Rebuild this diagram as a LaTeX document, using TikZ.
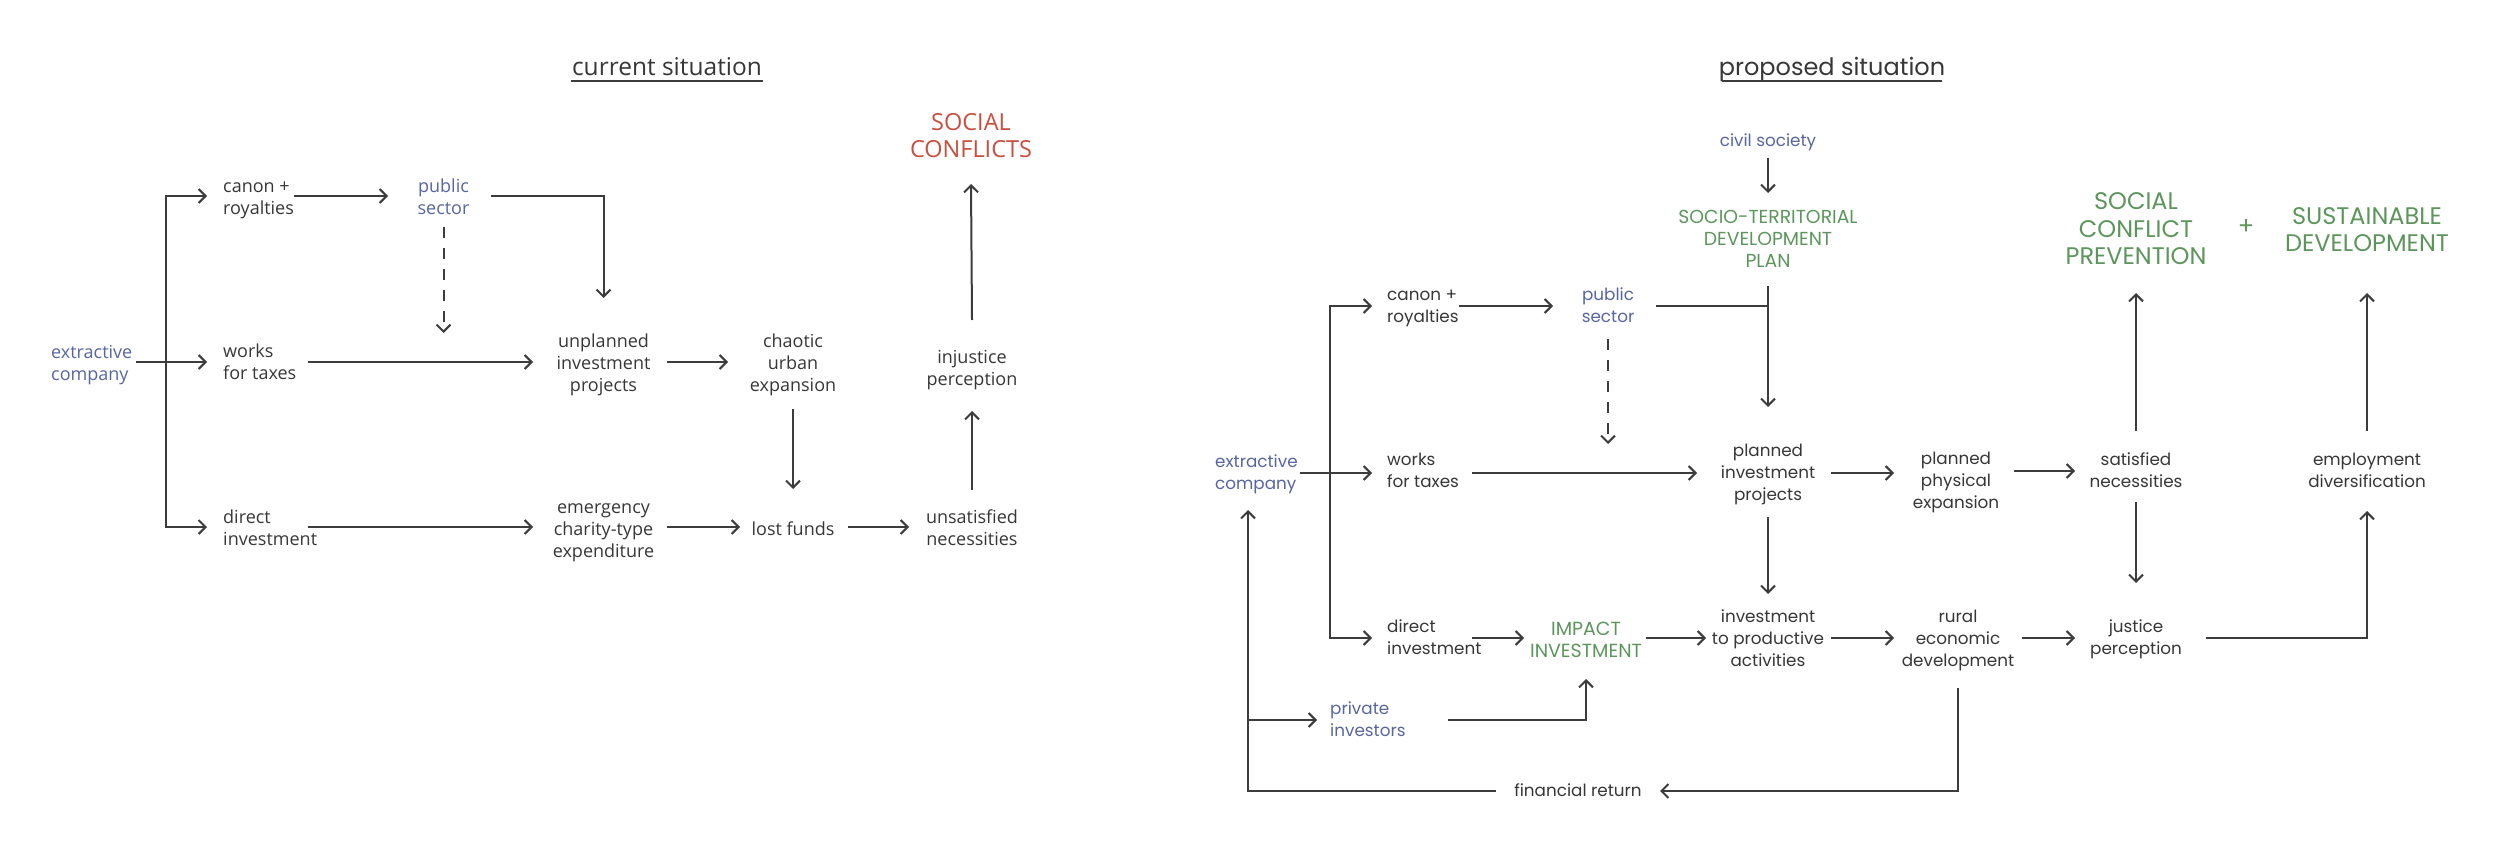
\documentclass[tikz,border=0pt]{standalone}
\usepackage{fontspec}
\setmainfont{Open Sans}
\newfontfamily\pop{Poppins}
\usetikzlibrary{arrows.meta}
\definecolor{ink}{RGB}{55,55,55}
\definecolor{lineink}{RGB}{60,60,60}
\definecolor{sblue}{RGB}{88,102,160}
\definecolor{sgreen}{RGB}{92,150,92}
\definecolor{sred}{RGB}{200,78,62}
\def\txtdrop{0pt}
\newcommand\cbox[1]{\raisebox{\txtdrop}[\height][\depth]{\begin{tabular}{@{}c@{}}#1\end{tabular}}}
\newcommand\lbox[1]{\raisebox{\txtdrop}[\height][\depth]{\begin{tabular}{@{}l@{}}#1\end{tabular}}}
\begin{document}
\begin{tikzpicture}[x=1pt,y=-1pt,
  lbl/.style={inner sep=0pt, text=ink, font=\fontsize{18}{22}\selectfont\def\txtdrop{-3.5pt}},
  rlbl/.style={lbl, font=\pop\fontsize{16.8}{22}\selectfont\def\txtdrop{-1.5pt}},
  head/.style={align=center},
  lft/.style={anchor=west},
  bluet/.style={text=sblue},
  greent/.style={text=sgreen},
  ln/.style={draw=lineink, line width=2pt},
  arr/.style={ln, -{Straight Barb[length=7pt,width=14pt]}},
  arrtwo/.style={ln, {Straight Barb[length=7pt,width=14pt]}-{Straight Barb[length=7pt,width=14pt]}},
  dsh/.style={arr, dash pattern=on 11pt off 10pt}]
\fill[white] (0,0) rectangle (2500,853);
\useasboundingbox (0,0) rectangle (2500,853);

% ---------------- current situation ----------------
\node[lbl, font=\fontsize{24.5}{28}\selectfont, anchor=base] (tL) at (667,76) {current situation};
\draw[ln, line width=1.6pt] ([xshift=-96pt,yshift=-5pt]tL.base) -- ([xshift=96pt,yshift=-5pt]tL.base);

\node[lbl, lft, bluet] (ext) at (51,362) {\lbox{extractive\\company}};
\node[lbl, lft] (canon) at (223,196) {\lbox{canon +\\royalties}};
\node[lbl, bluet] (pub) at (443.5,196) {\cbox{public\\sector}};
\node[lbl, lft] (works) at (223,361) {\lbox{works\\for taxes}};
\node[lbl, lft] (direct) at (223,527) {\lbox{direct\\investment}};
\node[lbl] (unpl) at (603.5,362) {\cbox{unplanned\\investment\\projects}};
\node[lbl] (emerg) at (603.5,528) {\cbox{emergency\\charity-type\\expenditure}};
\node[lbl] (chaotic) at (793,362) {\cbox{chaotic\\urban\\expansion}};
\node[lbl] (lost) at (793,528) {\cbox{lost funds}};
\node[lbl] (unsat) at (972,527) {\cbox{unsatisfied\\necessities}};
\node[lbl] (injust) at (972,367) {\cbox{injustice\\perception}};
\node[lbl, head, text=sred, font=\fontsize{23.5}{27}\selectfont] (soc) at (971,136) {SOCIAL\\CONFLICTS};

\draw[arr] ([xshift=85pt]ext.west) -- ([xshift=-16pt]works.west |- ext.west);
\draw[arrtwo] ([xshift=-16pt]canon.west) -- ([xshift=-57pt]canon.west) -- ([xshift=-57pt]direct.west) -- ([xshift=-16pt]direct.west);
\draw[arr] ([xshift=71pt]canon.west) -- ([xshift=-55.5pt]pub.center);
\draw[arr] ([xshift=47.5pt]pub.center) -| ([yshift=64pt]unpl.center);
\draw[dsh] ([yshift=-31pt]pub.center) -- ([yshift=-137pt]pub.center);
\draw[arr] ([xshift=85pt]works.west |- unpl.center) -- ([xshift=-70.5pt]unpl.center);
\draw[arr] ([xshift=85pt]direct.west) -- ([xshift=-70.5pt]emerg.center |- direct.west);
\draw[arr] ([xshift=63.5pt]unpl.center) -- ([xshift=-65pt]chaotic.center);
\draw[arr] ([yshift=-47pt]chaotic.center) -- ([yshift=39pt]lost.center);
\draw[arr] ([xshift=63.5pt]emerg.center |- direct.west) -- ([xshift=-53pt]lost.center |- direct.west);
\draw[arr] ([xshift=55pt]lost.center |- direct.west) -- ([xshift=-63pt]unsat.center |- direct.west);
\draw[arr] ([yshift=37pt]unsat.center) -- ([yshift=-44pt]injust.center);
\draw[arr] ([yshift=47pt]injust.center) -- ([yshift=-48pt]soc.center);

% ---------------- proposed situation ----------------
\node[rlbl, font=\pop\fontsize{24}{28}\selectfont, anchor=base] (tR) at (1832,76) {proposed situation};
\draw[ln, line width=1.6pt] ([xshift=-110pt,yshift=-5pt]tR.base) -- ([xshift=110pt,yshift=-5pt]tR.base);

\node[rlbl, bluet] (civil) at (1768,141) {\cbox{civil society}};
\node[rlbl, head, greent, font=\pop\fontsize{18.8}{22}\selectfont] (plan) at (1768,239) {SOCIO-TERRITORIAL\\DEVELOPMENT\\PLAN};
\node[rlbl, bluet] (pub2) at (1608,306) {\cbox{public\\sector}};
\node[rlbl, lft] (canon2) at (1387,306) {\lbox{canon +\\royalties}};
\node[rlbl, lft, bluet] (ext2) at (1215,473) {\lbox{extractive\\company}};
\node[rlbl, lft] (works2) at (1387,471) {\lbox{works\\for taxes}};
\node[rlbl] (planned) at (1768,473) {\cbox{planned\\investment\\projects}};
\node[rlbl] (phys) at (1956,481) {\cbox{planned\\physical\\expansion}};
\node[rlbl] (sat) at (2136,471) {\cbox{satisfied\\necessities}};
\node[rlbl] (emp) at (2367,471) {\cbox{employment\\diversification}};
\node[rlbl, head, greent, font=\pop\fontsize{24}{27.5}\selectfont] (scp) at (2136,229) {SOCIAL\\CONFLICT\\PREVENTION};
\node[rlbl, head, greent, font=\pop\fontsize{24}{27.5}\selectfont] (plus) at (2246,227) {+};
\node[rlbl, head, greent, font=\pop\fontsize{24}{27.5}\selectfont] (sust) at (2367,229.5) {SUSTAINABLE\\DEVELOPMENT};
\node[rlbl] (inv2) at (1768,639) {\cbox{investment\\to productive\\activities}};
\node[rlbl, lft] (direct2) at (1387,638) {\lbox{direct\\investment}};
\node[rlbl, head, greent, font=\pop\fontsize{19}{22}\selectfont] (impact) at (1586,640) {IMPACT\\INVESTMENT};
\node[rlbl] (rural) at (1958,639) {\cbox{rural\\economic\\development}};
\node[rlbl] (just) at (2136,638) {\cbox{justice\\perception}};
\node[rlbl, lft, bluet] (priv) at (1330,720) {\lbox{private\\investors}};
\node[rlbl] (finret) at (1578,791) {\cbox{financial return}};
\coordinate (ret) at ([xshift=33pt]ext2.west);

\draw[arr] ([yshift=-17pt]civil.center) -- ([yshift=46pt]plan.center);
\draw[arr] ([yshift=-47pt]plan.center) -- ([yshift=66pt]planned.center);
\draw[ln] ([xshift=48pt]pub2.center) -- (pub2.center -| planned.center);
\draw[arr] ([xshift=72pt]canon2.west) -- ([xshift=-55pt]pub2.center);
\draw[arrtwo] ([xshift=-15pt]canon2.west) -- ([xshift=-57pt]canon2.west) -- ([xshift=-57pt]direct2.west) -- ([xshift=-15pt]direct2.west);
\draw[arr] ([xshift=85pt]ext2.west) -- ([xshift=-15pt]works2.west |- ext2.west);
\draw[arr] ([xshift=85pt]works2.west |- planned.center) -- ([xshift=-71pt]planned.center);
\draw[dsh] ([yshift=-33pt]pub2.center) -- ([yshift=-138pt]pub2.center);
\draw[arr] ([yshift=-44pt]planned.center) -- ([yshift=45pt]inv2.center);
\draw[arr] ([xshift=85pt]direct2.west) -- ([xshift=-62pt]impact.center |- direct2.west);
\draw[arr] ([xshift=60pt]impact.center |- direct2.west) -- ([xshift=-62pt]inv2.center |- direct2.west);
\draw[arr] ([xshift=63pt]inv2.center |- direct2.west) -- ([xshift=-64pt]rural.center |- direct2.west);
\draw[arr] ([xshift=64pt]rural.center |- direct2.west) -- ([xshift=-61pt]just.center |- direct2.west);
\draw[arr] ([xshift=63pt]planned.center) -- ([xshift=-62pt]phys.center |- planned.center);
\draw[arr] ([xshift=58pt]phys.center |- sat.center) -- ([xshift=-61pt]sat.center);
\draw[arr] ([yshift=40pt]sat.center) -- ([yshift=-64pt]scp.center);
\draw[arr] ([yshift=-31pt]sat.center) -- ([yshift=55pt]just.center);
\draw[arr] ([yshift=40pt]emp.center) -- ([yshift=-63.5pt]sust.center);
\draw[arr] ([xshift=70pt]just.center) -| ([yshift=-40pt]emp.center);
\draw[arr] ([xshift=-82pt]finret.center) -| ([yshift=-37pt]ret);
\draw[arr] (ret |- priv.west) -- ([xshift=-13pt]priv.west);
\draw[arr] ([xshift=118pt]priv.west) -| ([yshift=-39pt]impact.center);
\draw[arr] ([yshift=-49pt]rural.center) |- ([xshift=82pt]finret.center);
\end{tikzpicture}
\end{document}
